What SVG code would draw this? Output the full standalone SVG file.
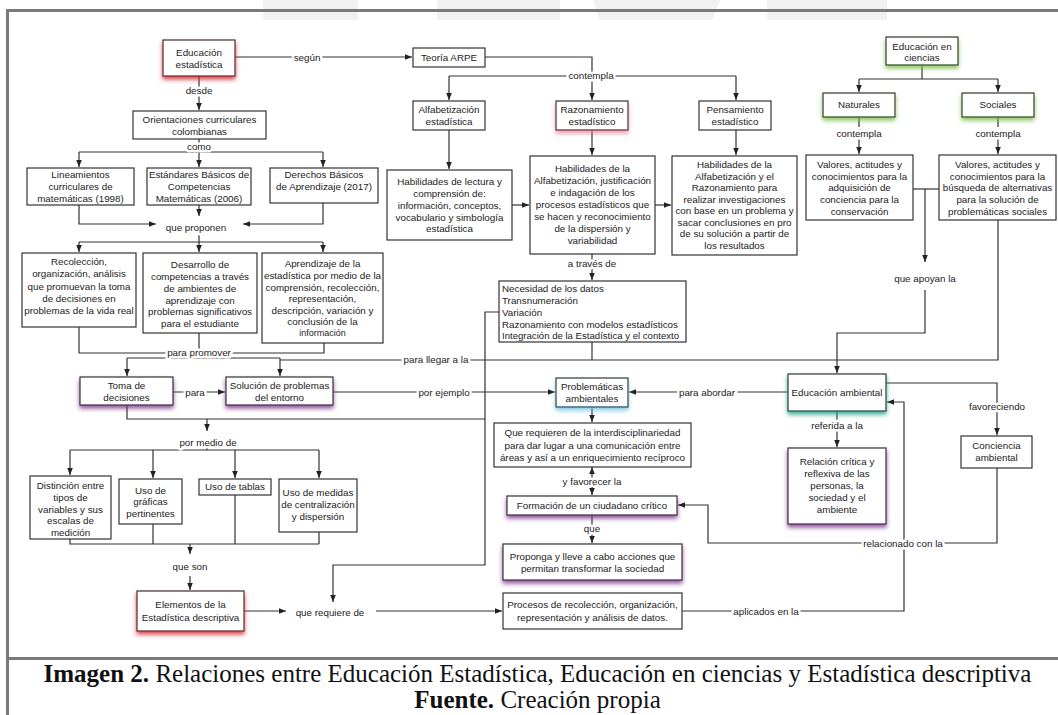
<svg xmlns="http://www.w3.org/2000/svg" width="1058" height="715" viewBox="0 0 1058 715">
<style>
.b{fill:#fff;stroke:#333;stroke-width:1.2}
.t{font-family:"Liberation Sans",Arial,sans-serif;font-size:9.8px;fill:#222;text-anchor:middle;dominant-baseline:central}
.tl{text-anchor:start}
.l{font-family:"Liberation Sans",Arial,sans-serif;font-size:9.8px;fill:#222;text-anchor:middle;dominant-baseline:central;stroke:#fff;stroke-width:5px;paint-order:stroke;stroke-linejoin:round}
.c{fill:none;stroke:#333;stroke-width:1.2}
.a{marker-end:url(#ar)}
.cap{font-family:"Liberation Serif","Times New Roman",serif;font-size:25px;fill:#111;text-anchor:middle}
.frame{fill:#7a7a7a}
.wm{fill:#f1f1f1}
</style>
<defs>
<marker id="ar" viewBox="0 0 10 10" refX="10" refY="5" markerWidth="7" markerHeight="7" orient="auto-start-reverse" markerUnits="userSpaceOnUse"><path d="M0,1 L10,5 L0,9 z" fill="#222"/></marker>
<filter id="fRed" x="-20%" y="-20%" width="140%" height="170%"><feDropShadow dx="0" dy="3" stdDeviation="2" flood-color="#e0262f" flood-opacity="0.85"/></filter>
<filter id="fPink" x="-20%" y="-20%" width="140%" height="170%"><feDropShadow dx="0" dy="3" stdDeviation="2" flood-color="#f0708e" flood-opacity="0.7"/></filter>
<filter id="fGreen" x="-20%" y="-20%" width="140%" height="170%"><feDropShadow dx="0" dy="3" stdDeviation="2" flood-color="#76c043" flood-opacity="0.85"/></filter>
<filter id="fPurple" x="-20%" y="-20%" width="140%" height="170%"><feDropShadow dx="0" dy="3" stdDeviation="2" flood-color="#7a2a8a" flood-opacity="0.8"/></filter>
<filter id="fBlue" x="-20%" y="-20%" width="140%" height="170%"><feDropShadow dx="0" dy="3" stdDeviation="2" flood-color="#5fc3f0" flood-opacity="0.8"/></filter>
<filter id="fTeal" x="-20%" y="-20%" width="140%" height="170%"><feDropShadow dx="0" dy="3" stdDeviation="2" flood-color="#17a589" flood-opacity="0.85"/></filter>
</defs>
<rect x="0" y="0" width="1058" height="715" fill="#fff"/>
<g id="watermark">
<rect class="wm" x="263" y="0" width="95" height="20"/>
<rect class="wm" x="437" y="0" width="123" height="20"/>
<polygon class="wm" points="593,0 720,0 712,20 600,20"/>
<rect class="wm" x="767" y="0" width="120" height="20"/>
</g>
<g id="frame">
<rect class="frame" x="6" y="9" width="1052" height="3"/>
<rect class="frame" x="6" y="9" width="3" height="706"/>
<rect class="frame" x="6" y="657" width="1052" height="3"/>
</g>

<g id="connectors">
<path class="c a" d="M235,57 H412"/>
<path class="c a" d="M199,76 V110"/>
<path class="c" d="M199,139 V152 M79,152 H323"/>
<path class="c a" d="M79,152 V167"/>
<path class="c a" d="M199,152 V167"/>
<path class="c a" d="M323,152 V167"/>
<path class="c a" d="M79,205 V224 H156"/>
<path class="c a" d="M323,203 V224 H243"/>
<path class="c a" d="M199,205 V216"/>
<path class="c" d="M199,233 V242 M79,242 H323"/>
<path class="c a" d="M79,242 V252"/>
<path class="c a" d="M199,242 V252"/>
<path class="c a" d="M323,242 V252"/>
<path class="c" d="M79,327 V353 H324 V343 M199,333 V358 M127,358 H280"/>
<path class="c a" d="M127,358 V376"/>
<path class="c a" d="M280,358 V376"/>
<path class="c" d="M998,220 V360 H280"/>
<path class="c a" d="M173,392 H225"/>
<path class="c a" d="M333,392 H555"/>
<path class="c" d="M127,405 V419 H485"/>
<path class="c a" d="M207,419 V431"/>
<path class="c" d="M207,448 V450 M70,450 H319"/>
<path class="c a" d="M70,450 V475"/>
<path class="c a" d="M153,450 V478"/>
<path class="c a" d="M235,450 V478"/>
<path class="c a" d="M319,450 V478"/>
<path class="c" d="M70,539 V544 H319 M153,524 V544 M235,495 V544 M319,532 V544"/>
<path class="c a" d="M190,544 V554"/>
<path class="c a" d="M190,576 V590"/>
<path class="c a" d="M244,611 H286"/>
<path class="c a" d="M376,611 H502"/>
<path class="c a" d="M499,312 H485 V565 H333 V602"/>
<path d="M679,308.5 L686,312 L679,315.5 z" fill="#222"/>
<path class="c a" d="M485,57 H592 V100"/>
<path class="c" d="M449,76 H736"/>
<path class="c a" d="M449,76 V100"/>
<path class="c a" d="M736,76 V100"/>
<path class="c a" d="M449,130 V169"/>
<path class="c a" d="M592,130 V155"/>
<path class="c a" d="M736,130 V155"/>
<path class="c a" d="M512,205 H529"/>
<path class="c a" d="M655,205 H671"/>
<path class="c a" d="M592,254 V280"/>
<path class="c" d="M592,342 V360"/>
<path class="c" d="M922,65 V79 M859,79 H998"/>
<path class="c a" d="M859,79 V92"/>
<path class="c a" d="M998,79 V92"/>
<path class="c" d="M859,117 V127 M998,117 V127"/>
<path class="c a" d="M859,139 V154"/>
<path class="c a" d="M998,139 V154"/>
<path class="c" d="M913,189 H939"/>
<path class="c a" d="M925,189 V262"/>
<path class="c a" d="M925,290 V333 H837 V373"/>
<path class="c a" d="M788,392 H629"/>
<path class="c a" d="M592,407 V422"/>
<path class="c a" d="M592,467 V495" marker-start="url(#ar)"/>
<path class="c a" d="M592,515 V543"/>
<path class="c a" d="M886,383 H997 V435"/>
<path class="c a" d="M997,468 V543 H708 V505 H678"/>
<path class="c a" d="M837,411 V447"/>
<path class="c a" d="M682,611 H904 V402 H887"/>
</g>

<g id="n-edu-est"><rect class="b" x="163" y="40" width="72" height="36" filter="url(#fRed)"/><text class="t"><tspan x="199" y="52">Educación</tspan><tspan x="199" y="63.5">estadística</tspan></text></g>
<g id="n-teoria"><rect class="b" x="413" y="48" width="72" height="19"/><text class="t" x="449" y="57.5">Teoría ARPE</text></g>
<g id="n-alfab"><rect class="b" x="413" y="101" width="72" height="29"/><text class="t"><tspan x="449" y="109">Alfabetización</tspan><tspan x="449" y="121">estadística</tspan></text></g>
<g id="n-razon"><rect class="b" x="556" y="101" width="72" height="29" filter="url(#fPink)"/><text class="t"><tspan x="592" y="109">Razonamiento</tspan><tspan x="592" y="121">estadístico</tspan></text></g>
<g id="n-pensa"><rect class="b" x="699" y="101" width="72" height="29"/><text class="t"><tspan x="735" y="109">Pensamiento</tspan><tspan x="735" y="121">estadístico</tspan></text></g>
<g id="n-orient"><rect class="b" x="133" y="111" width="133" height="28"/><text class="t"><tspan x="199.5" y="119">Orientaciones curriculares</tspan><tspan x="199.5" y="130.5">colombianas</tspan></text></g>
<g id="n-lineam"><rect class="b" x="27" y="168" width="107" height="37"/><text class="t"><tspan x="80.5" y="174">Lineamientos</tspan><tspan x="80.5" y="186">curriculares de</tspan><tspan x="80.5" y="197.5">matemáticas (1998)</tspan></text></g>
<g id="n-estand"><rect class="b" x="147" y="168" width="104" height="37"/><text class="t"><tspan x="199" y="174">Estándares Básicos de</tspan><tspan x="199" y="186">Competencias</tspan><tspan x="199" y="197.5">Matemáticas (2006)</tspan></text></g>
<g id="n-derechos"><rect class="b" x="270" y="168" width="108" height="35"/><text class="t"><tspan x="324" y="174">Derechos Básicos</tspan><tspan x="324" y="186">de Aprendizaje (2017)</tspan></text></g>
<g id="n-hab-lect"><rect class="b" x="387" y="170" width="125" height="70"/><text class="t"><tspan x="449.5" y="181">Habilidades de lectura  y</tspan><tspan x="449.5" y="193">comprensión de:</tspan><tspan x="449.5" y="205">información, conceptos,</tspan><tspan x="449.5" y="216.5">vocabulario y simbología</tspan><tspan x="449.5" y="228">estadística</tspan></text></g>
<g id="n-hab-razon"><rect class="b" x="530" y="156" width="125" height="98"/><text class="t"><tspan x="592.5" y="168">Habilidades de la</tspan><tspan x="592.5" y="180">Alfabetización, justificación</tspan><tspan x="592.5" y="192">e indagación de los</tspan><tspan x="592.5" y="204">procesos estadísticos que</tspan><tspan x="592.5" y="216">se hacen y reconocimiento</tspan><tspan x="592.5" y="228">de la dispersión y</tspan><tspan x="592.5" y="240">variabilidad</tspan></text></g>
<g id="n-hab-pens"><rect class="b" x="672" y="156" width="125" height="99"/><text class="t"><tspan x="734.5" y="164">Habilidades de la</tspan><tspan x="734.5" y="175.5">Alfabetización y el</tspan><tspan x="734.5" y="187">Razonamiento para</tspan><tspan x="734.5" y="198.5">realizar investigaciones</tspan><tspan x="734.5" y="210">con base en un problema y</tspan><tspan x="734.5" y="221.5">sacar conclusiones en pro</tspan><tspan x="734.5" y="233">de su solución a partir de</tspan><tspan x="734.5" y="245">los resultados</tspan></text></g>
<g id="n-edu-cien"><rect class="b" x="886" y="37" width="72" height="28" filter="url(#fGreen)"/><text class="t"><tspan x="922" y="45.5">Educación en</tspan><tspan x="922" y="57">ciencias</tspan></text></g>
<g id="n-natur"><rect class="b" x="823" y="93" width="72" height="24" filter="url(#fGreen)"/><text class="t" x="859" y="104.5">Naturales</text></g>
<g id="n-social"><rect class="b" x="962" y="93" width="72" height="24" filter="url(#fGreen)"/><text class="t" x="998" y="104.5">Sociales</text></g>
<g id="n-val-nat"><rect class="b" x="806" y="155" width="107" height="65"/><text class="t"><tspan x="859.5" y="164">Valores, actitudes y</tspan><tspan x="859.5" y="175.5">conocimientos para la</tspan><tspan x="859.5" y="187">adquisición de</tspan><tspan x="859.5" y="199">conciencia para la</tspan><tspan x="859.5" y="211">conservación</tspan></text></g>
<g id="n-val-soc"><rect class="b" x="939" y="155" width="117" height="65"/><text class="t"><tspan x="997.5" y="164">Valores, actitudes y</tspan><tspan x="997.5" y="175.5">conocimientos para la</tspan><tspan x="997.5" y="187">búsqueda de alternativas</tspan><tspan x="997.5" y="199">para la solución de</tspan><tspan x="997.5" y="211">problemáticas sociales</tspan></text></g>
<g id="n-recol"><rect class="b" x="22" y="253" width="114" height="74"/><text class="t"><tspan x="79" y="261">Recolección,</tspan><tspan x="79" y="273">organización, análisis</tspan><tspan x="79" y="285.5">que promuevan la toma</tspan><tspan x="79" y="297.5">de decisiones en</tspan><tspan x="79" y="309.5">problemas de la vida real</tspan></text></g>
<g id="n-desarr"><rect class="b" x="143" y="253" width="114" height="80"/><text class="t"><tspan x="200" y="264">Desarrollo de</tspan><tspan x="200" y="276">competencias a través</tspan><tspan x="200" y="287.5">de ambientes de</tspan><tspan x="200" y="299.5">aprendizaje con</tspan><tspan x="200" y="311">problemas significativos</tspan><tspan x="200" y="323">para el estudiante</tspan></text></g>
<g id="n-aprend"><rect class="b" x="262" y="253" width="121" height="90"/><text class="t"><tspan x="322.5" y="263">Aprendizaje de la</tspan><tspan x="322.5" y="274.5">estadística por medio de la</tspan><tspan x="322.5" y="286.5">comprensión, recolección,</tspan><tspan x="322.5" y="298">representación,</tspan><tspan x="322.5" y="309.5">descripción, variación y</tspan><tspan x="322.5" y="321">conclusión de la</tspan><tspan x="322.5" y="333" style="font-size:9px">información</tspan></text></g>
<g id="n-necesidad"><rect class="b" x="499" y="281" width="187" height="61"/><text class="t tl"><tspan x="502" y="287.5">Necesidad de los datos</tspan><tspan x="502" y="299.5">Transnumeración</tspan><tspan x="502" y="311.5">Variación</tspan><tspan x="502" y="323.5">Razonamiento con modelos estadísticos</tspan><tspan x="502" y="334.5" style="font-size:9.6px">Integración de la Estadística y el contexto</tspan></text></g>
<g id="n-toma"><rect class="b" x="80" y="377" width="93" height="28" filter="url(#fPurple)"/><text class="t"><tspan x="126.5" y="385">Toma de</tspan><tspan x="126.5" y="397">decisiones</tspan></text></g>
<g id="n-soluc"><rect class="b" x="226" y="377" width="107" height="28" filter="url(#fPurple)"/><text class="t"><tspan x="279.5" y="385">Solución de problemas</tspan><tspan x="279.5" y="397">del entorno</tspan></text></g>
<g id="n-problem"><rect class="b" x="556" y="378" width="72" height="29" filter="url(#fBlue)"/><text class="t"><tspan x="592" y="386">Problemáticas</tspan><tspan x="592" y="397.5">ambientales</tspan></text></g>
<g id="n-edu-amb"><rect class="b" x="788" y="374" width="98" height="37" filter="url(#fTeal)"/><text class="t" x="837" y="392.5">Educación ambiental</text></g>
<g id="n-requieren"><rect class="b" x="494" y="423" width="197" height="44"/><text class="t"><tspan x="592.5" y="432">Que requieren de la interdisciplinariedad</tspan><tspan x="592.5" y="444.5">para dar lugar a una comunicación entre</tspan><tspan x="592.5" y="456.5">áreas y así a un enriquecimiento recíproco</tspan></text></g>
<g id="n-formacion"><rect class="b" x="507" y="496" width="170" height="19" filter="url(#fPurple)"/><text class="t" x="592" y="505">Formación de un ciudadano crítico</text></g>
<g id="n-proponga"><rect class="b" x="503" y="544" width="179" height="36" filter="url(#fPurple)"/><text class="t"><tspan x="592.5" y="556">Proponga y lleve a cabo acciones que</tspan><tspan x="592.5" y="567.5">permitan transformar la sociedad</tspan></text></g>
<g id="n-relacion"><rect class="b" x="788" y="448" width="98" height="76" filter="url(#fPurple)"/><text class="t"><tspan x="837" y="461">Relación crítica y</tspan><tspan x="837" y="473">reflexiva de las</tspan><tspan x="837" y="485">personas, la</tspan><tspan x="837" y="497">sociedad y el</tspan><tspan x="837" y="508.5">ambiente</tspan></text></g>
<g id="n-concien"><rect class="b" x="961" y="436" width="71" height="32"/><text class="t"><tspan x="996.5" y="445">Conciencia</tspan><tspan x="996.5" y="457">ambiental</tspan></text></g>
<g id="n-distincion"><rect class="b" x="30" y="476" width="81" height="63"/><text class="t"><tspan x="70.5" y="485">Distinción entre</tspan><tspan x="70.5" y="497">tipos de</tspan><tspan x="70.5" y="508.5">variables y sus</tspan><tspan x="70.5" y="520">escalas de</tspan><tspan x="70.5" y="532">medición</tspan></text></g>
<g id="n-graficas"><rect class="b" x="119" y="479" width="63" height="45"/><text class="t"><tspan x="150.5" y="489.5">Uso de</tspan><tspan x="150.5" y="501">gráficas</tspan><tspan x="150.5" y="512.5">pertinentes</tspan></text></g>
<g id="n-tablas"><rect class="b" x="199" y="479" width="72" height="16"/><text class="t" x="235" y="486.5">Uso de tablas</text></g>
<g id="n-medidas"><rect class="b" x="279" y="479" width="78" height="53"/><text class="t"><tspan x="318" y="492">Uso de medidas</tspan><tspan x="318" y="504">de centralización</tspan><tspan x="318" y="516">y dispersión</tspan></text></g>
<g id="n-elementos"><rect class="b" x="137" y="591" width="107" height="40" filter="url(#fRed)"/><text class="t"><tspan x="190.5" y="604">Elementos de la</tspan><tspan x="190.5" y="616.5">Estadística descriptiva</tspan></text></g>
<g id="n-procesos"><rect class="b" x="503" y="593" width="179" height="36"/><text class="t"><tspan x="592.5" y="604">Procesos de recolección, organización,</tspan><tspan x="592.5" y="616.5">representación y análisis de datos.</tspan></text></g>

<g id="labels">
<text class="l" x="307" y="57">según</text>
<text class="l" x="199" y="90">desde</text>
<text class="l" x="199" y="146.5">como</text>
<text class="l" x="196" y="227">que proponen</text>
<text class="l" x="199" y="352">para promover</text>
<text class="l" x="591" y="75">contempla</text>
<text class="l" x="859" y="133">contempla</text>
<text class="l" x="998" y="133">contempla</text>
<text class="l" x="592" y="263">a través de</text>
<text class="l" x="925" y="278">que apoyan la</text>
<text class="l" x="436" y="359">para llegar a la</text>
<text class="l" x="195" y="392">para</text>
<text class="l" x="444" y="392">por ejemplo</text>
<text class="l" x="707" y="392">para abordar</text>
<text class="l" x="837" y="425">referida a la</text>
<text class="l" x="997" y="406">favoreciendo</text>
<text class="l" x="592" y="481">y favorecer la</text>
<text class="l" x="592" y="528">que</text>
<text class="l" x="903" y="543">relacionado con la</text>
<text class="l" x="208" y="442">por medio de</text>
<text class="l" x="190" y="566">que son</text>
<text class="l" x="330" y="612">que requiere de</text>
<text class="l" x="766" y="611">aplicados en la</text>
</g>

<g id="caption">
<text class="cap" x="537.5" y="682"><tspan font-weight="bold">Imagen 2.</tspan> Relaciones entre Educación Estadística, Educación en ciencias y Estadística descriptiva</text>
<text class="cap" x="537.5" y="708"><tspan font-weight="bold">Fuente.</tspan> Creación propia</text>
</g>
</svg>
